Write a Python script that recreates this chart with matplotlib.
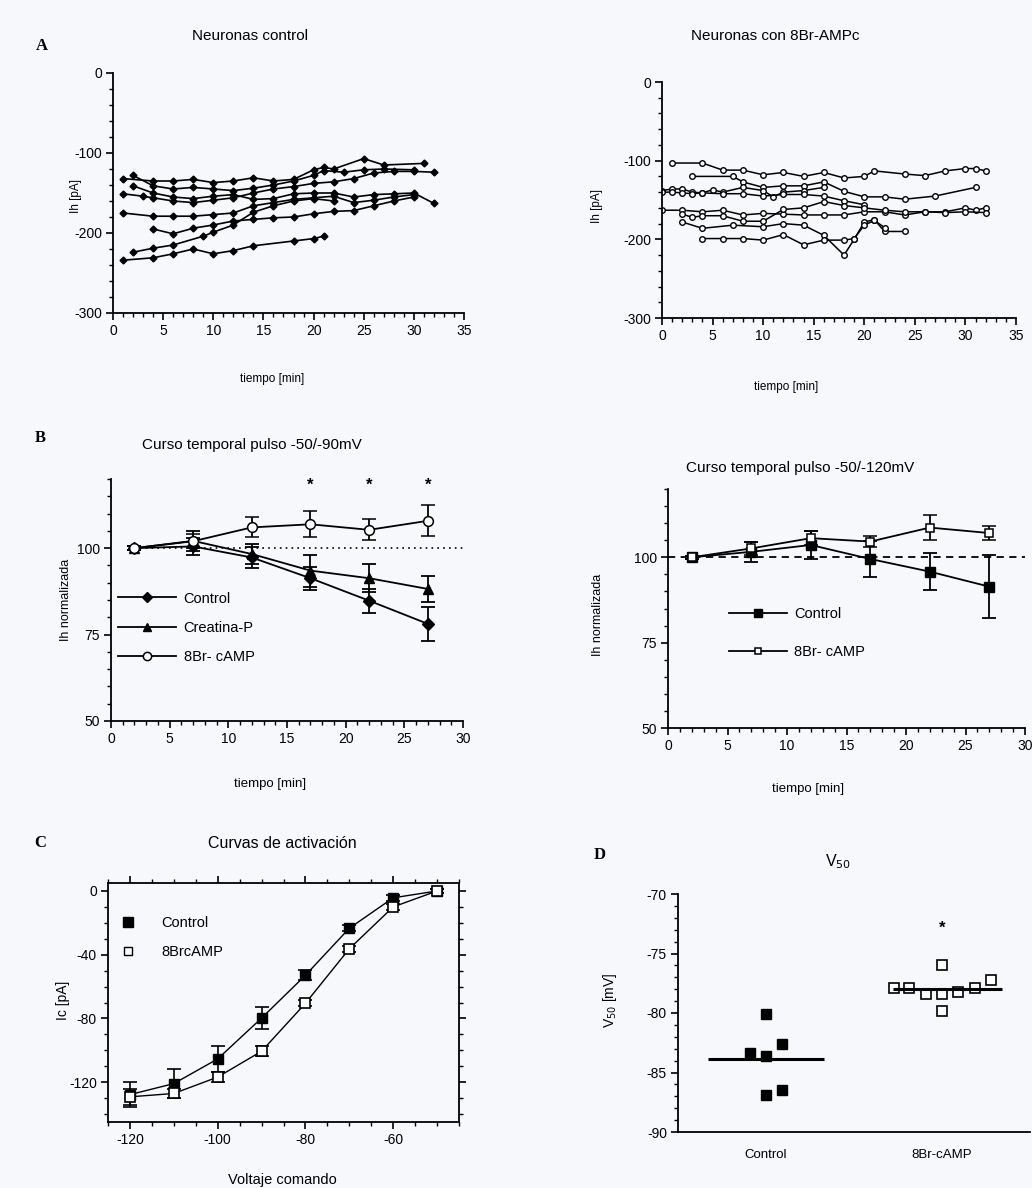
import matplotlib
matplotlib.use('Agg')
import matplotlib.pyplot as plt
from matplotlib.ticker import MultipleLocator

plt.rcParams['font.family'] = ['Liberation Sans', 'DejaVu Sans']
plt.rcParams['axes.unicode_minus'] = False

BG = '#f6f8fb'
W, H = 1032, 1188

# ---------------- Panel A: individual traces (time [min], Ih [pA]) ----------------
a_ctrl_t1 = [1, 4, 6, 8, 10, 12, 14, 16, 18, 20, 21, 22, 25, 27, 31]
a_ctrl_i1 = [-132, -135, -135, -133, -137, -135, -131, -135, -133, -121, -118, -120, -107, -115, -113]
a_ctrl_t2 = [2, 4, 6, 8, 10, 12, 14, 16, 18, 20, 21, 23, 25, 27, 30]
a_ctrl_i2 = [-128, -141, -145, -143, -145, -147, -144, -140, -135, -128, -122, -124, -121, -120, -121]
a_ctrl_t3 = [1, 3, 4, 6, 8, 10, 12, 14, 16, 18, 20, 22, 24, 26, 28, 30, 32]
a_ctrl_i3 = [-151, -154, -156, -160, -162, -159, -156, -150, -145, -142, -138, -136, -132, -125, -123, -123, -124]
a_ctrl_t4 = [2, 4, 6, 8, 10, 12, 14, 16, 18, 20, 22, 24, 26, 28, 30, 32]
a_ctrl_i4 = [-141, -150, -155, -157, -154, -152, -158, -157, -151, -150, -150, -155, -152, -151, -150, -163]
a_ctrl_t5 = [1, 4, 6, 8, 10, 12, 14, 16, 18, 20, 22, 24, 26, 28, 30]
a_ctrl_i5 = [-175, -179, -179, -179, -177, -175, -166, -162, -158, -156, -154, -162, -159, -155, -152]
a_ctrl_t6 = [4, 6, 8, 10, 12, 14, 16, 18, 20, 22, 24, 26, 28, 30]
a_ctrl_i6 = [-195, -201, -194, -190, -185, -183, -181, -180, -176, -173, -172, -166, -160, -155]
a_ctrl_t7 = [2, 4, 6, 9, 10, 12, 14, 16, 18, 20, 22]
a_ctrl_i7 = [-224, -219, -215, -204, -199, -190, -174, -166, -160, -157, -160]
a_ctrl_t8 = [1, 4, 6, 8, 10, 12, 14, 18, 20, 21]
a_ctrl_i8 = [-234, -231, -226, -220, -226, -222, -216, -210, -207, -204]

a_camp_t1 = [1, 4, 6, 8, 10, 12, 14, 16, 18, 20, 21, 24, 26, 28, 30, 31, 32]
a_camp_i1 = [-103, -103, -112, -112, -118, -115, -120, -115, -122, -120, -113, -117, -119, -113, -110, -110, -113]
a_camp_t2 = [3, 7, 8, 10, 12, 14, 16, 18, 20, 22, 24, 27, 31]
a_camp_i2 = [-120, -120, -127, -134, -132, -132, -127, -139, -146, -146, -149, -145, -134]
a_camp_t3 = [0, 1, 2, 3, 4, 5, 6, 8, 10, 11, 12, 14, 16]
a_camp_i3 = [-138, -136, -136, -140, -141, -137, -140, -134, -138, -146, -140, -138, -134]
a_camp_t4 = [0, 1, 2, 3, 4, 6, 8, 10, 12, 14, 16, 18, 20]
a_camp_i4 = [-140, -140, -141, -142, -141, -142, -142, -145, -143, -143, -145, -151, -156]
a_camp_t5 = [0, 2, 4, 6, 8, 10, 12, 14, 16, 18, 20, 22, 24, 26, 28, 30, 31, 32]
a_camp_i5 = [-163, -163, -165, -163, -169, -167, -168, -169, -169, -169, -165, -165, -169, -165, -165, -160, -163, -160]
a_camp_t6 = [2, 3, 4, 6, 8, 10, 12, 14, 16, 18, 20, 22, 24, 26, 28, 30, 32]
a_camp_i6 = [-168, -172, -170, -170, -177, -177, -162, -160, -152, -157, -160, -163, -165, -165, -166, -165, -166]
a_camp_t7 = [2, 4, 7, 10, 12, 14, 16, 18, 19, 20, 21, 22, 24]
a_camp_i7 = [-178, -186, -182, -184, -180, -182, -195, -220, -200, -178, -175, -190, -190]
a_camp_t8 = [4, 6, 8, 10, 12, 14, 16, 18, 19, 20, 21, 22]
a_camp_i8 = [-199, -199, -199, -201, -194, -207, -201, -201, -199, -182, -176, -185]

# ---------------- Panel B: normalized Ih ----------------
b_time = [2, 7, 12, 17, 22, 27]
b90_ctrl = [100, 100.5, 97.3, 91.3, 84.8, 78.1]
b90_ctrl_err = [0.5, 2.5, 3.0, 3.3, 3.5, 5.0]
b90_creat = [100, 102.1, 98.3, 93.5, 91.3, 88.2]
b90_creat_err = [0.5, 2.9, 3.0, 4.6, 4.0, 3.8]
b90_camp = [100, 102.0, 106.0, 106.9, 105.3, 107.9]
b90_camp_err = [0.5, 2.0, 2.9, 3.7, 3.0, 4.5]
b90_signif = ['', '', '', '*', '*', '*']

b120_ctrl = [100, 101.6, 103.6, 99.5, 95.8, 91.4]
b120_ctrl_err = [0.5, 3.0, 4.2, 5.2, 5.4, 9.3]
b120_camp = [100, 102.6, 105.6, 104.6, 108.7, 107.1]
b120_camp_err = [0.5, 2.0, 2.0, 1.5, 3.7, 2.0]
ref_level = 100

# ---------------- Panel C: activation curves ----------------
c_volt = [-120, -110, -100, -90, -80, -70, -60, -50]
c_ctrl = [-127.8, -120.9, -105.4, -79.8, -52.9, -23.4, -4.3, 0]
c_ctrl_err = [8, 9, 8, 7, 3, 2, 2, 1]
c_camp = [-129.2, -127.1, -116.8, -100.6, -70.5, -36.3, -10, 0]
c_camp_err = [5, 3, 3, 3, 2, 2, 2, 1]

# ---------------- Panel D: V50 ----------------
d_groups = ['Control', '8Br-cAMP']
d_ctrl = [-80.1, -82.6, -83.4, -83.6, -86.5, -86.9]
d_ctrl_jit = [0, 0.09, -0.09, 0, 0.09, 0]
d_camp = [-77.9, -77.9, -78.4, -78.4, -78.2, -77.9, -77.2, -76.0, -79.8]
d_camp_jit = [-0.27, -0.19, -0.09, 0, 0.09, 0.19, 0.28, 0, 0]
d_signif = '*'

fig = plt.figure(figsize=(W / 100, H / 100), dpi=100, facecolor=BG)


def add_ax(l, t, r, b):
    ax = fig.add_axes([l / W, 1 - b / H, (r - l) / W, (b - t) / H])
    ax.set_facecolor(BG)
    return ax


def ftext(x, y, s, **kw):
    fig.text(x / W, 1 - y / H, s, ha=kw.pop('ha', 'center'), va=kw.pop('va', 'center'), **kw)


def style_lb(ax):
    for s in ['top', 'right']:
        ax.spines[s].set_visible(False)
    for s in ['left', 'bottom']:
        ax.spines[s].set_linewidth(1.3)
    ax.tick_params(which='major', direction='out', length=5, width=1.2, labelsize=10, pad=3)
    ax.tick_params(which='minor', direction='out', length=3, width=1.0)


# ---- A left ----
axA1 = add_ax(113, 73, 464, 313)
for t, i in [(a_ctrl_t1, a_ctrl_i1), (a_ctrl_t2, a_ctrl_i2), (a_ctrl_t3, a_ctrl_i3), (a_ctrl_t4, a_ctrl_i4),
             (a_ctrl_t5, a_ctrl_i5), (a_ctrl_t6, a_ctrl_i6), (a_ctrl_t7, a_ctrl_i7), (a_ctrl_t8, a_ctrl_i8)]:
    axA1.plot(t, i, color='black', lw=1.2, marker='D', ms=3.5, mfc='black', mec='black')
axA1.set_xlim(0, 35)
axA1.set_ylim(-300, 0)
axA1.xaxis.set_major_locator(MultipleLocator(5))
axA1.xaxis.set_minor_locator(MultipleLocator(1))
axA1.yaxis.set_major_locator(MultipleLocator(100))
axA1.yaxis.set_minor_locator(MultipleLocator(20))
style_lb(axA1)

# ---- A right ----
axA2 = add_ax(662, 82, 1016, 318)
for t, i in [(a_camp_t1, a_camp_i1), (a_camp_t2, a_camp_i2), (a_camp_t3, a_camp_i3), (a_camp_t4, a_camp_i4),
             (a_camp_t5, a_camp_i5), (a_camp_t6, a_camp_i6), (a_camp_t7, a_camp_i7), (a_camp_t8, a_camp_i8)]:
    axA2.plot(t, i, color='black', lw=1.1, marker='o', ms=4, mfc='white', mec='black', mew=1.0)
axA2.set_xlim(0, 35)
axA2.set_ylim(-300, 0)
axA2.xaxis.set_major_locator(MultipleLocator(5))
axA2.xaxis.set_minor_locator(MultipleLocator(1))
axA2.yaxis.set_major_locator(MultipleLocator(100))
axA2.yaxis.set_minor_locator(MultipleLocator(20))
style_lb(axA2)

# ---- B left ----
axB1 = add_ax(111, 479, 463, 721)
axB1.hlines(ref_level, b_time[0], 30, colors='black', linestyles=(0, (1, 2.5)), lw=1.2)
eb = dict(color='black', lw=1.3, elinewidth=1.3, capsize=5, capthick=1.3)
axB1.errorbar(b_time, b90_ctrl, yerr=b90_ctrl_err, marker='D', ms=6.5, mfc='black', mec='black',
              label='Control', **eb)
axB1.errorbar(b_time, b90_creat, yerr=b90_creat_err, marker='^', ms=7.5, mfc='black', mec='black',
              label='Creatina-P', **eb)
axB1.errorbar(b_time, b90_camp, yerr=b90_camp_err, marker='o', ms=7, mfc='white', mec='black', mew=1.1,
              label='8Br- cAMP', **eb)
for t, s in zip(b_time, b90_signif):
    if s:
        axB1.text(t, 118.3, s, ha='center', va='center', fontsize=12, fontweight='bold')
axB1.set_xlim(0, 30)
axB1.set_ylim(50, 120)
axB1.xaxis.set_major_locator(MultipleLocator(5))
axB1.xaxis.set_minor_locator(MultipleLocator(1))
axB1.set_yticks([50, 75, 100])
axB1.yaxis.set_minor_locator(MultipleLocator(5))
style_lb(axB1)
h, l = axB1.get_legend_handles_labels()
leg_handles = [hh[0] for hh in h]
axB1.legend(leg_handles, l, loc='upper left', bbox_to_anchor=(0.02, 0.535), frameon=False,
            handlelength=4.0, handletextpad=0.5, labelspacing=1.05, borderpad=0, borderaxespad=0,
            fontsize=10.5, markerscale=0.85)

# ---- B right ----
axB2 = add_ax(668, 489, 1025, 728)
axB2.axhline(ref_level, color='black', ls=(0, (4, 3)), lw=1.3)
axB2.errorbar(b_time, b120_ctrl, yerr=b120_ctrl_err, marker='s', ms=7.5, mfc='black', mec='black',
              label='Control', **eb)
axB2.errorbar(b_time, b120_camp, yerr=b120_camp_err, marker='s', ms=6, mfc='white', mec='black', mew=1.1,
              label='8Br- cAMP', **eb)
axB2.set_xlim(0, 30)
axB2.set_ylim(50, 120)
axB2.xaxis.set_major_locator(MultipleLocator(5))
axB2.xaxis.set_minor_locator(MultipleLocator(1))
axB2.set_yticks([50, 75, 100])
axB2.yaxis.set_minor_locator(MultipleLocator(5))
style_lb(axB2)
h, l = axB2.get_legend_handles_labels()
axB2.legend([hh[0] for hh in h], l, loc='upper left', bbox_to_anchor=(0.17, 0.505), frameon=False,
            handlelength=4.0, handletextpad=0.5, labelspacing=1.6, borderpad=0, borderaxespad=0,
            fontsize=10.5, markerscale=0.8)

# ---- C ----
axC = add_ax(108, 883, 459, 1122)
ebc = dict(color='black', lw=1.0, elinewidth=1.2, capsize=5, capthick=1.2)
axC.errorbar(c_volt, c_ctrl, yerr=c_ctrl_err, marker='s', ms=7.5, mfc='black', mec='black', **ebc)
axC.errorbar(c_volt, c_camp, yerr=c_camp_err, marker='s', ms=6.5, mfc='white', mec='black', mew=1.2, **ebc)
axC.plot([], [], ls='none', marker='s', ms=6.5, mfc='black', mec='black', label='Control')
axC.plot([], [], ls='none', marker='s', ms=6, mfc='white', mec='black', label='8BrcAMP')
axC.set_xlim(-125, -45)
axC.set_ylim(-145, 5)
axC.set_xticks([-120, -100, -80, -60])
axC.xaxis.set_minor_locator(MultipleLocator(5))
axC.set_yticks([-120, -80, -40, 0])
axC.yaxis.set_minor_locator(MultipleLocator(10))
for s in axC.spines.values():
    s.set_linewidth(1.3)
axC.tick_params(which='major', direction='out', length=5, width=1.2, labelsize=10, pad=3,
                top=True, right=True, labeltop=False, labelright=False)
axC.tick_params(which='minor', direction='out', length=3, width=1.0, top=True, right=True)
hC, lC = axC.get_legend_handles_labels()
axC.legend(hC[-2:], lC[-2:], loc='upper left', bbox_to_anchor=(0.035, 0.86), frameon=False,
           handlelength=1.0, handletextpad=1.8, labelspacing=1.0, borderpad=0, borderaxespad=0,
           fontsize=10.5, numpoints=1)

# ---- D ----
axD = add_ax(678, 894, 1030, 1132)
axD.plot([0 + j for j in d_ctrl_jit], d_ctrl, ls='none', marker='s', ms=7.5, mfc='black', mec='black')
axD.plot([1 + j for j in d_camp_jit], d_camp, ls='none', marker='s', ms=7, mfc='white', mec='black', mew=1.2)
axD.hlines(sum(d_ctrl) / len(d_ctrl), -0.33, 0.33, colors='black', lw=2.2)
axD.hlines(sum(d_camp) / len(d_camp), 0.72, 1.34, colors='black', lw=2.2)
axD.text(1, -72.9, d_signif, ha='center', va='center', fontsize=12, fontweight='bold')
axD.set_xlim(-0.5, 1.5)
axD.set_ylim(-90, -70)
axD.set_xticks([0, 1])
axD.set_xticklabels(d_groups)
axD.yaxis.set_major_locator(MultipleLocator(5))
axD.yaxis.set_minor_locator(MultipleLocator(1))
style_lb(axD)
axD.tick_params(axis='x', length=0, pad=12, labelsize=9.5)

# ---- texts ----
ftext(250, 36, 'Neuronas control', fontsize=11)
ftext(775, 36, 'Neuronas con 8Br-AMPc', fontsize=11)
ftext(252, 445, 'Curso temporal pulso -50/-90mV', fontsize=11)
ftext(800, 468, 'Curso temporal pulso -50/-120mV', fontsize=11)
ftext(282, 843, 'Curvas de activación', fontsize=11.5)
ftext(838, 862, 'V$_{50}$', fontsize=11.5)
for x, y, s in [(42, 46, 'A'), (40, 438, 'B'), (40, 843, 'C'), (600, 855, 'D')]:
    ftext(x, y, s, fontsize=12, fontweight='bold', family=['Liberation Serif', 'DejaVu Serif'])

ftext(272, 379, 'tiempo [min]', fontsize=8.5)
ftext(786, 387, 'tiempo [min]', fontsize=8.5)
ftext(76, 196, 'Ih [pA]', fontsize=8.5, rotation=90)
ftext(597, 206, 'Ih [pA]', fontsize=8.5, rotation=90)
ftext(66, 600, 'Ih normalizada', fontsize=9, rotation=90)
ftext(598, 615, 'Ih normalizada', fontsize=9, rotation=90)
ftext(270, 784, 'tiempo [min]', fontsize=9.5)
ftext(808, 789, 'tiempo [min]', fontsize=9.5)
ftext(63, 1000, 'Ic [pA]', fontsize=10, rotation=90)
ftext(282, 1180, 'Voltaje comando', fontsize=10.5)
ftext(610, 1000, 'V$_{50}$ [mV]', fontsize=10, rotation=90)

fig.savefig('out.png', dpi=100, facecolor=BG)
